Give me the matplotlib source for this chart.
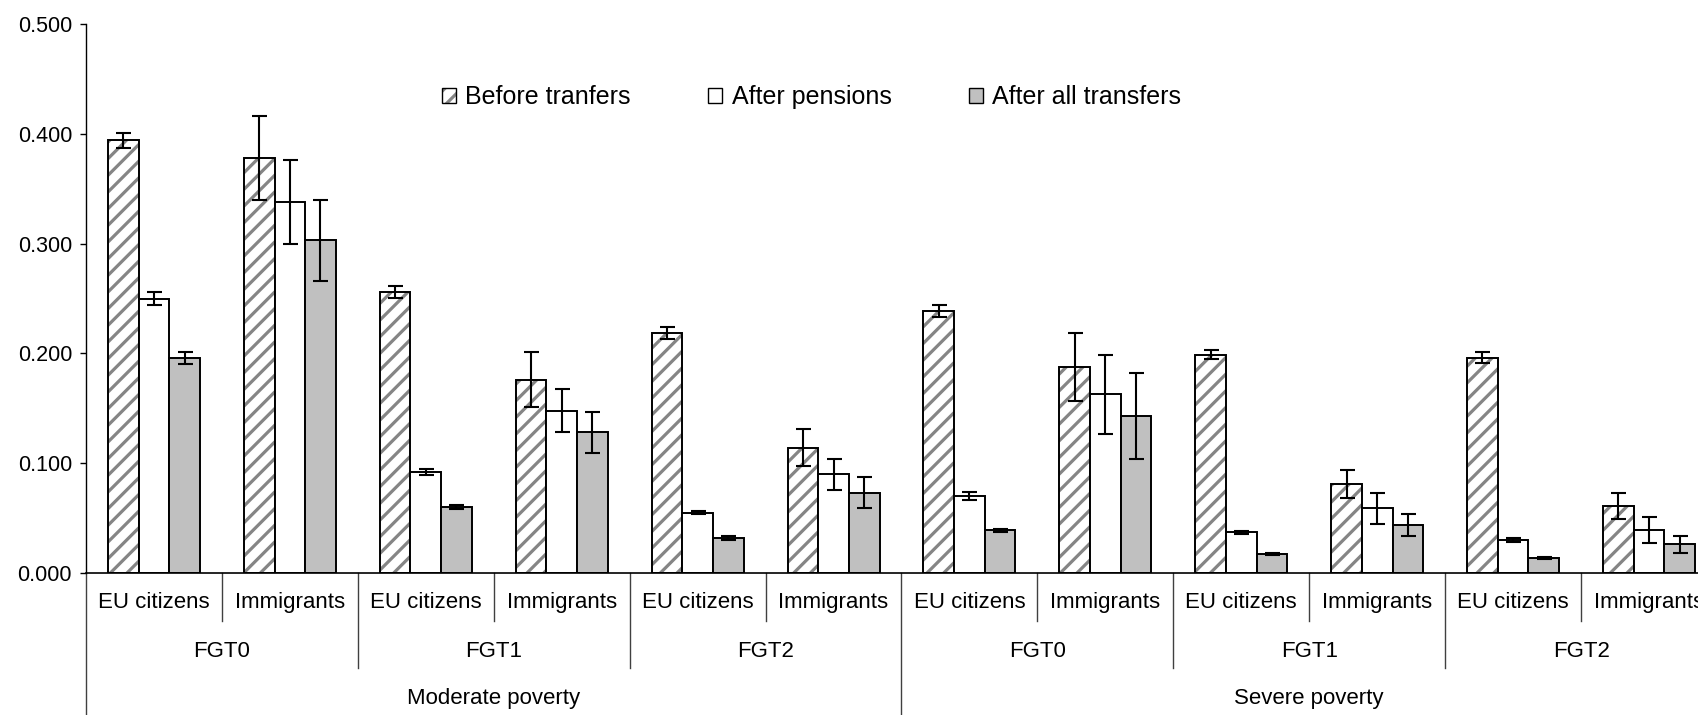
import matplotlib
matplotlib.use("Agg")
import matplotlib.pyplot as plt
from matplotlib.patches import Patch
from matplotlib.ticker import FormatStrFormatter
import numpy as np

plt.rcParams["font.family"] = ["Liberation Sans", "DejaVu Sans"]
plt.rcParams["hatch.linewidth"] = 2.3

# data
groups = ["EU citizens", "Immigrants"] * 6
indices = ["FGT0", "FGT1", "FGT2"] * 2
poverty = ["Moderate poverty", "Severe poverty"]
series = ["Before tranfers", "After pensions", "After all transfers"]

before = [0.394, 0.378, 0.256, 0.176, 0.219, 0.114, 0.239, 0.188, 0.199, 0.081, 0.196, 0.061]
after_pens = [0.250, 0.338, 0.092, 0.148, 0.055, 0.090, 0.070, 0.163, 0.037, 0.059, 0.030, 0.039]
after_all = [0.196, 0.303, 0.060, 0.128, 0.032, 0.073, 0.039, 0.143, 0.017, 0.044, 0.014, 0.026]

before_err = [0.007, 0.038, 0.0055, 0.025, 0.0055, 0.017, 0.0055, 0.031, 0.0045, 0.013, 0.005, 0.012]
pens_err = [0.0055, 0.038, 0.003, 0.020, 0.0015, 0.014, 0.0037, 0.036, 0.0015, 0.014, 0.002, 0.012]
all_err = [0.0055, 0.037, 0.0015, 0.019, 0.0015, 0.014, 0.0015, 0.039, 0.001, 0.010, 0.001, 0.0075]

fig = plt.figure(figsize=(16.99, 7.15), dpi=100)
ax = fig.add_axes([0.0506, 0.1986, 0.960, 0.7678])

x = np.arange(len(groups))
w = 0.2255
edge_lw = 1.4
err_kw = dict(ecolor="black", elinewidth=1.5, capsize=5.4, capthick=1.5)

# hatched bars: gray stripes first, black outline on top
ax.bar(x - w, before, w, color="white", hatch="//", edgecolor="#858585", linewidth=0)
ax.bar(x - w, before, w, fill=False, edgecolor="black", linewidth=edge_lw,
       yerr=before_err, error_kw=err_kw)
ax.bar(x, after_pens, w, color="white", edgecolor="black", linewidth=edge_lw,
       yerr=pens_err, error_kw=err_kw)
ax.bar(x + w, after_all, w, color="#c0c0c0", edgecolor="black", linewidth=edge_lw,
       yerr=all_err, error_kw=err_kw)

ax.set_xlim(-0.5, 11.5)
ax.set_ylim(0, 0.5)
ax.set_yticks(np.arange(0, 0.51, 0.1))
ax.yaxis.set_major_formatter(FormatStrFormatter("%.3f"))
ax.tick_params(axis="y", direction="out", length=4, width=1, labelsize=15.5, pad=6)
ax.set_xticks([])
for s in ["top", "right"]:
    ax.spines[s].set_visible(False)
ax.spines["left"].set_linewidth(1)
ax.spines["bottom"].set_linewidth(1.2)

# multi-level category axis
tr = ax.get_xaxis_transform()
sep_col = "#404040"
for i, g in enumerate(groups):
    ax.text(i, -0.0546, g, transform=tr, ha="center", va="center", fontsize=16)
for j, lab in enumerate(indices):
    ax.text(2 * j + 0.5, -0.143, lab, transform=tr, ha="center", va="center", fontsize=16)
for k, lab in enumerate(poverty):
    ax.text(6 * k + 2.5, -0.2295, lab, transform=tr, ha="center", va="center", fontsize=16)

for b in np.arange(0.5, 11, 1.0):
    if b == 5.5:
        depth = -0.26
    elif (b - 1.5) % 2 == 0:
        depth = -0.173
    else:
        depth = -0.0874
    ax.plot([b, b], [0, depth], transform=tr, color=sep_col, lw=1, clip_on=False)
ax.plot([-0.5, -0.5], [0, -0.26], transform=tr, color=sep_col, lw=1, clip_on=False)

# legend
h1 = (Patch(facecolor="white", hatch="//", edgecolor="#858585", linewidth=0),
      Patch(fill=False, edgecolor="black", linewidth=1))
h2 = Patch(facecolor="white", edgecolor="black", linewidth=1)
h3 = Patch(facecolor="#c0c0c0", edgecolor="black", linewidth=1)
ax.legend([h1, h2, h3], series, ncol=3, loc="center", bbox_to_anchor=(0.445, 0.867),
          frameon=False, fontsize=18, handlelength=0.55, handleheight=0.55,
          handletextpad=0.38, columnspacing=3.1, borderpad=0)

fig.savefig("out.png", dpi=100)
